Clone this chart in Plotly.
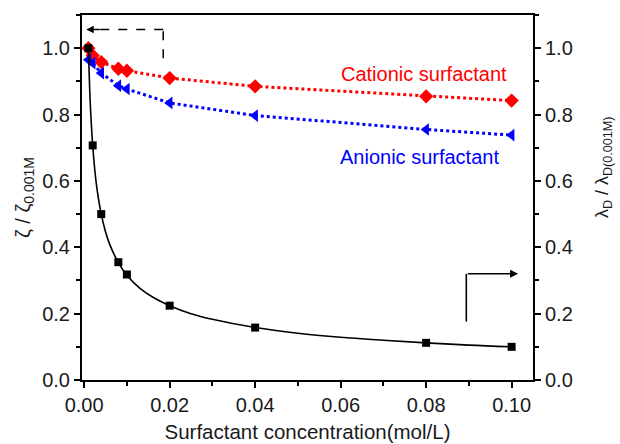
import plotly.graph_objects as go

conc = [0.001, 0.002, 0.004, 0.008, 0.01, 0.02, 0.04, 0.08, 0.1]
debye = [1.0, 0.707, 0.50, 0.355, 0.318, 0.224, 0.158, 0.112, 0.100]
cationic = [1.0, 0.978, 0.958, 0.938, 0.932, 0.910, 0.885, 0.855, 0.842]
anionic = [0.965, 0.955, 0.925, 0.887, 0.877, 0.835, 0.797, 0.755, 0.738]

fit_x = [0.001, 0.0012, 0.0015, 0.002, 0.0025, 0.003, 0.004, 0.005, 0.006, 0.008, 0.01,
         0.013, 0.016, 0.02, 0.025, 0.03, 0.04, 0.05, 0.06, 0.07, 0.08, 0.09, 0.1]
fit_y = [1.0, 0.913, 0.816, 0.707, 0.632, 0.577, 0.50, 0.447, 0.408, 0.354, 0.316,
         0.277, 0.250, 0.224, 0.200, 0.183, 0.158, 0.141, 0.129, 0.120, 0.112, 0.105, 0.100]

xticks = [0.0, 0.02, 0.04, 0.06, 0.08, 0.1]
xticklabels = ["0.00", "0.02", "0.04", "0.06", "0.08", "0.10"]
yticks = [0.0, 0.2, 0.4, 0.6, 0.8, 1.0]
yticklabels = ["0.0", "0.2", "0.4", "0.6", "0.8", "1.0"]

FONT = "Liberation Sans, Arial, sans-serif"
TXT = "#1a1a1a"

fig = go.Figure()
# zeta ratios (left axis)
fig.add_trace(go.Scatter(x=conc, y=cationic, mode="lines+markers", yaxis="y",
                         line=dict(color="#ff0000", width=3, dash="dot"),
                         marker=dict(symbol="diamond", size=11, color="#ff0000"), showlegend=False))
fig.add_trace(go.Scatter(x=conc, y=anionic, mode="lines+markers", yaxis="y",
                         line=dict(color="#0000ff", width=3, dash="dot"),
                         marker=dict(symbol="triangle-left", size=11, color="#0000ff"), showlegend=False))
# Debye length ratio (right axis)
fig.add_trace(go.Scatter(x=fit_x, y=fit_y, mode="lines", yaxis="y2",
                         line=dict(color="black", width=1.6, shape="spline"),
                         showlegend=False, hoverinfo="skip"))
fig.add_trace(go.Scatter(x=conc, y=debye, mode="markers", yaxis="y2",
                         marker=dict(symbol="square", size=8, color="black"), showlegend=False))

axis_common = dict(showgrid=False, zeroline=False, showline=True, linecolor="black", linewidth=2,
                   ticks="outside", ticklen=6, tickwidth=1.5, tickcolor="black", automargin=False,
                   tickfont=dict(family=FONT, size=20, color=TXT))

fig.update_layout(
    width=620, height=444,
    margin=dict(l=82, r=87, t=15, b=64),
    plot_bgcolor="white", paper_bgcolor="white",
    font=dict(family=FONT, size=20, color=TXT),
    xaxis=dict(**axis_common, range=[-0.0005, 0.105], tickvals=xticks, ticktext=xticklabels,
               mirror=True,
               minor=dict(dtick=0.01, ticks="outside", ticklen=4, tickwidth=1.5, tickcolor="black"),
               title=dict(text="Surfactant concentration(mol/L)", font=dict(family=FONT, size=20.5, color=TXT),
                          standoff=10)),
    yaxis=dict(**axis_common, range=[0, 1.1], tickvals=yticks, ticktext=yticklabels,
               minor=dict(dtick=0.1, ticks="outside", ticklen=4, tickwidth=1.5, tickcolor="black"),
               title=dict(text="ζ / ζ<sub>0.001M</sub>", font=dict(family=FONT, size=20, color=TXT),
                          standoff=6)),
    yaxis2=dict(**axis_common, range=[0, 1.1], tickvals=yticks, ticktext=yticklabels,
                overlaying="y", side="right",
                minor=dict(dtick=0.1, ticks="outside", ticklen=4, tickwidth=1.5, tickcolor="black")),
)

# right axis title
fig.add_annotation(x=1.158, y=0.584, xref="paper", yref="paper", xanchor="center", yanchor="middle",
                   text="λ<sub>D</sub> / λ<sub>D(0.001M)</sub>", textangle=-90, showarrow=False,
                   font=dict(family=FONT, size=18, color=TXT))

fig.add_annotation(x=0.0794, y=0.922, xref="x", yref="y", text="Cationic surfactant", showarrow=False,
                   font=dict(family=FONT, size=20, color="#ff0000"))
fig.add_annotation(x=0.0785, y=0.672, xref="x", yref="y", text="Anionic surfactant", showarrow=False,
                   font=dict(family=FONT, size=20, color="#0000ff"))

# dashed arrow pointing to left axis
fig.add_shape(type="line", xref="x", yref="y", x0=0.0185, y0=0.97, x1=0.0185, y1=1.056,
              line=dict(color="black", width=1.5, dash="dash"))
fig.add_shape(type="line", xref="x", yref="y", x0=0.0185, y0=1.056, x1=0.0015, y1=1.056,
              line=dict(color="black", width=1.5, dash="dash"))
fig.add_annotation(x=0.0005, y=1.056, ax=0.004, ay=1.056, xref="x", yref="y", axref="x", ayref="y",
                   text="", showarrow=True, arrowhead=2, arrowsize=1, arrowwidth=1.5, arrowcolor="black")

# solid arrow pointing to right axis
fig.add_shape(type="line", xref="x", yref="y", x0=0.0894, y0=0.176, x1=0.0894, y1=0.32,
              line=dict(color="black", width=1.6))
fig.add_annotation(x=0.1015, y=0.32, ax=0.0894, ay=0.32, xref="x", yref="y", axref="x", ayref="y",
                   text="", showarrow=True, arrowhead=2, arrowsize=1, arrowwidth=1.6, arrowcolor="black")

fig.write_html("out.html")
